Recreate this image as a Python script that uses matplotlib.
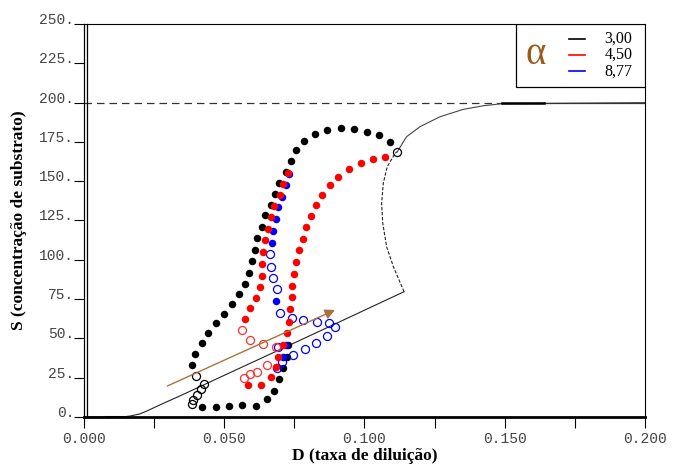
import matplotlib
matplotlib.use("Agg")
import matplotlib.pyplot as plt
import matplotlib.transforms as mtransforms
from matplotlib.patches import Rectangle

# steady-state curve S(D): lower stable branch, unstable (dashed) branch, upper stable branch
SS_LO_D = [0.0, 0.0080, 0.0135, 0.0164, 0.0200, 0.0224, 0.0283, 0.0342, 0.0500, 0.0734, 0.0900, 0.1141]
SS_LO_S = [0.0, 0.0, 0.0, 0.6, 2.0, 3.8, 8.7, 13.4, 26.5, 45.8, 59.6, 79.7]
SS_UN_D = [0.1141, 0.1103, 0.1079, 0.1065, 0.1061, 0.1067, 0.1081, 0.1109, 0.1117]
SS_UN_S = [79.7, 95.6, 108.3, 123.2, 135.9, 148.7, 159.2, 167.7, 168.8]
SS_HI_D = [0.1117, 0.1150, 0.1198, 0.1269, 0.1352, 0.1424, 0.1489, 0.2000]
SS_HI_S = [168.8, 178.3, 184.7, 191.0, 195.7, 198.0, 199.3, 200.0]
S0 = 200.0
WASHOUT_END = 0.149
START = (0.1117, 168.8)

# alpha = 3.00 (black)
BLK_FILL_D = [0.1091, 0.1052, 0.1008, 0.0963, 0.0915, 0.0867, 0.0824, 0.0784, 0.0756, 0.0738,
              0.0720, 0.0696, 0.0681, 0.0665, 0.0647, 0.0635, 0.0618, 0.0611, 0.0599, 0.0589,
              0.0575, 0.0554, 0.0527, 0.0499, 0.0469, 0.0443, 0.0420, 0.0396, 0.0386,
              0.0422, 0.0469, 0.0517, 0.0564, 0.0612, 0.0651, 0.0677, 0.0696, 0.0711, 0.0723, 0.0728]
BLK_FILL_S = [174.8, 179.4, 181.5, 183.2, 184.1, 182.6, 179.8, 175.6, 169.8, 162.8,
              156.1, 148.7, 141.9, 135.0, 128.3, 121.1, 113.9, 106.2, 99.0, 91.8,
              84.6, 78.0, 71.9, 65.5, 59.6, 53.2, 46.9, 40.1, 33.1,
              6.2, 6.2, 7.0, 7.4, 7.0, 11.5, 16.8, 24.0, 31.0, 38.0, 46.0]
BLK_OPEN_D = [0.0399, 0.0428, 0.0417, 0.0402, 0.0390, 0.0384]
BLK_OPEN_S = [26.1, 21.0, 17.8, 14.0, 10.8, 8.1]

# alpha = 4.50 (red)
RED_FILL_D = [0.1073, 0.1031, 0.0988, 0.0946, 0.0907, 0.0877, 0.0847, 0.0828, 0.0808, 0.0792,
              0.0779, 0.0767, 0.0757, 0.0749, 0.0743, 0.0740, 0.0734, 0.0732, 0.0723, 0.0711,
              0.0693, 0.0683, 0.0666, 0.0630, 0.0586,
              0.0728, 0.0711, 0.0700, 0.0677, 0.0667, 0.0657, 0.0645, 0.0637, 0.0634, 0.0633,
              0.0627, 0.0612, 0.0592, 0.0574]
RED_FILL_S = [165.6, 163.9, 161.4, 157.6, 152.9, 147.6, 141.2, 134.9, 127.7, 120.7,
              113.4, 106.2, 98.8, 91.0, 83.5, 76.3, 69.0, 60.6, 53.4, 45.8,
              38.4, 32.0, 25.3, 20.2, 20.6,
              155.4, 148.5, 141.2, 134.0, 127.0, 119.4, 112.4, 104.8, 97.3, 90.0,
              82.7, 75.7, 69.2, 62.1]
RED_OPEN_D = [0.0564, 0.0592, 0.0639, 0.0683, 0.0572, 0.0592, 0.0616, 0.0651]
RED_OPEN_S = [55.3, 49.0, 46.2, 44.3, 24.6, 27.4, 28.8, 33.1]

# alpha = 8.77 (blue)
BLU_FILL_D = [0.0731, 0.0719, 0.0705, 0.0693, 0.0683, 0.0675, 0.0669, 0.0683, 0.0720, 0.0711]
BLU_FILL_S = [154.4, 147.6, 139.8, 133.4, 126.0, 118.5, 110.9, 73.8, 45.8, 38.4]
BLU_OPEN_D = [0.0663, 0.0667, 0.0675, 0.0689, 0.0699, 0.0740, 0.0782, 0.0830, 0.0874, 0.0895,
              0.0865, 0.0827, 0.0788, 0.0746, 0.0707, 0.0687, 0.0693]
BLU_OPEN_S = [103.5, 95.6, 88.2, 81.2, 66.4, 62.8, 61.7, 60.6, 59.6, 57.1,
              51.5, 47.3, 43.1, 39.4, 35.2, 31.0, 44.7]

ARROW_FROM = (0.0297, 19.7)
ARROW_TO = (0.0895, 68.1)

ALPHAS = ["3,00", "4,50", "8,77"]
ALPHA_COLORS = ["black", "red", "blue"]

X_MAJOR = [0.0, 0.05, 0.10, 0.15, 0.20]
X_LABELS = ["0.000", "0.050", "0.100", "0.150", "0.200"]
X_MINOR = [0.025, 0.075, 0.125, 0.175]
Y_TICKS = [0, 25, 50, 75, 100, 125, 150, 175, 200, 225, 250]
Y_LABELS = ["0.", "25.", "50.", "75.", "100.", "125.", "150.", "175.", "200.", "225.", "250."]

BROWN = "#9a5a1e"

fig = plt.figure(figsize=(6.73, 4.68), dpi=100)
ax = fig.add_axes([0.1248, 0.109, 0.8336, 0.8397])
ax.set_xlim(0, 0.2)
ax.set_ylim(0, 250)

# steady states
ax.plot([0, WASHOUT_END], [S0, S0], color="#333333", lw=0.9, dashes=(6, 4))
ax.plot(SS_LO_D, SS_LO_S, color="#222222", lw=0.8)
ax.plot(SS_UN_D, SS_UN_S, color="#222222", lw=0.8, dashes=(3, 1.5))
ax.plot(SS_HI_D, SS_HI_S, color="#444444", lw=0.8)
ax.plot([WASHOUT_END, 0.2], [S0, S0], color="#333333", lw=0.9)
ax.plot([0.0078, 0.0139], [0, 0], color="black", lw=2.2)
ax.plot([WASHOUT_END, 0.164], [S0, S0], color="black", lw=1.8)

# trajectories
ms_fill, ms_open = 5.4, 5.8
ax.plot(BLK_FILL_D, BLK_FILL_S, "o", color="black", ms=ms_fill, mew=0)
ax.plot(BLK_OPEN_D, BLK_OPEN_S, "o", mfc="none", mec="black", ms=ms_open, mew=0.9)
ax.plot(BLU_FILL_D, BLU_FILL_S, "o", color="blue", ms=ms_fill, mew=0)
ax.plot(BLU_OPEN_D, BLU_OPEN_S, "o", mfc="none", mec="blue", ms=ms_open, mew=0.9)
ax.plot(RED_FILL_D, RED_FILL_S, "o", color="red", ms=ms_fill, mew=0)
ax.plot(RED_OPEN_D, RED_OPEN_S, "o", mfc="none", mec="#ff3030", ms=ms_open, mew=0.9)
ax.plot([START[0]], [START[1]], "o", mfc="none", mec="black", ms=ms_open, mew=0.9)

ax.annotate("", xy=ARROW_TO, xytext=ARROW_FROM,
            arrowprops=dict(arrowstyle="-|>,head_length=0.6,head_width=0.3",
                            color="#a8733f", lw=1.0, shrinkA=0, shrinkB=0))

# legend box in the top right corner
ax.add_patch(Rectangle((0.770, 0.8397), 0.230, 0.1603, transform=ax.transAxes,
                       facecolor="white", edgecolor="black", lw=0.9, zorder=5))
ax.text(0.805, 0.922, "α", transform=ax.transAxes, color=BROWN, fontsize=28,
        family="Liberation Serif", ha="center", va="center", zorder=6)
for i, (lab, c) in enumerate(zip(ALPHAS, ALPHA_COLORS)):
    y = 0.962 - i * 0.041
    ax.plot([0.8645, 0.893], [y, y], color=c, lw=1.2, transform=ax.transAxes, zorder=6)
    ax.text(0.928, y, lab, transform=ax.transAxes, fontsize=11.5,
            family="Liberation Serif", ha="left", va="center", zorder=6)

# axes frame: double left spine, heavy bottom spine
for side in ("top", "right"):
    ax.spines[side].set_linewidth(0.8)
ax.spines["left"].set_linewidth(0.9)
ax.spines["bottom"].set_linewidth(2.0)
shift = mtransforms.ScaledTranslation(2.5 / 72, 0, fig.dpi_scale_trans)
ax.plot([0, 0], [0, 1], color="black", lw=0.9, transform=ax.transAxes + shift,
        clip_on=False, zorder=6)

ax.set_xticks(X_MAJOR)
ax.set_xticklabels(X_LABELS)
ax.set_xticks(X_MINOR, minor=True)
ax.set_yticks(Y_TICKS)
ax.set_yticklabels(Y_LABELS)
ax.tick_params(axis="x", which="both", direction="out", length=8, width=0.8, pad=3)
ax.tick_params(axis="y", direction="out", length=7, width=0.8, pad=0)
for lab in ax.get_xticklabels() + ax.get_yticklabels():
    lab.set_family("Liberation Mono")
    lab.set_fontsize(10.5)
    lab.set_color("#444444")
for lab in ax.get_yticklabels():
    lab.set_va("baseline")

ax.set_xlabel("D (taxa de diluição)", family="Liberation Serif", fontweight="bold",
              fontsize=12.5, labelpad=1)
ax.set_ylabel("S (concentração de substrato)", family="Liberation Serif",
              fontweight="bold", fontsize=12.5, labelpad=9)

fig.savefig("out.png", dpi=100)
